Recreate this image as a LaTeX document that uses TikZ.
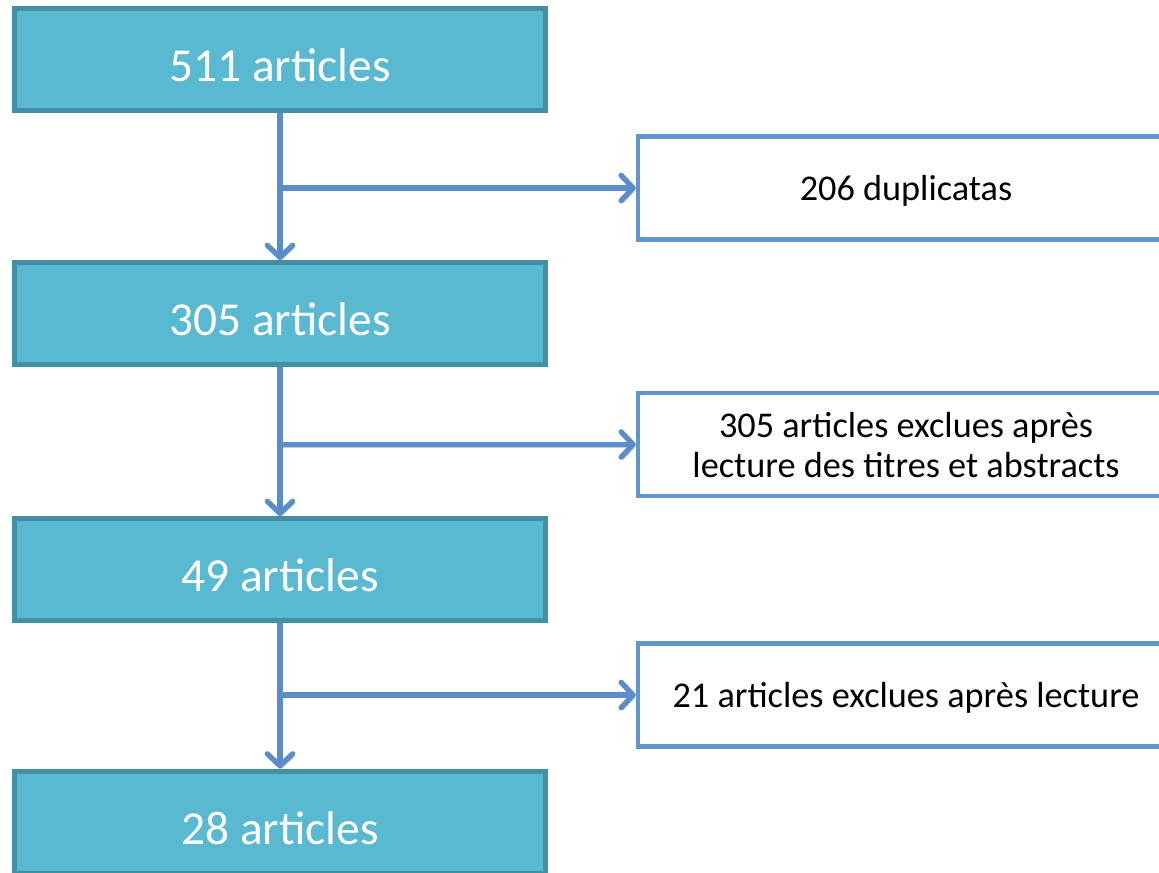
\documentclass[tikz,border=0pt]{standalone}
\usepackage{fontspec}
\setmainfont{Carlito}
\usetikzlibrary{positioning,
        arrows.meta}
\usepackage{xcolor}
\definecolor{boxfill}{RGB}{88,185,209}
\definecolor{boxline}{RGB}{67,143,163}
\definecolor{flowblue}{RGB}{91,142,200}
\definecolor{sideline}{RGB}{96,150,203}

\tikzset{
    stage/.style={rectangle,draw=boxline,fill=boxfill,line width=3.75pt,
        minimum width=398pt,minimum height=76.5pt,text=white,
        font=\fontsize{35.5}{42}\selectfont,text height=33pt,text depth=0pt},
    excluded/.style={rectangle,draw=sideline,fill=white,line width=3.3pt,
        minimum width=402pt,minimum height=77pt,align=center,
        font=\fontsize{27.2}{30}\selectfont,text depth=0pt},
    flow/.style={draw=flowblue,line width=4pt,
        -{Straight Barb[length=9pt,width=19pt,round]},
        preaction={draw=black,opacity=0.2,
            transform canvas={shift={(1.5pt,-2pt)}}}}
}

\begin{document}
\begin{tikzpicture}[x=0.75pt,y=-0.75pt]
    \useasboundingbox (0,0) rectangle (1159,872);
    \clip (0,0) rectangle (1159,872);

    \node [stage] (n511) at (280,59.5) {511 articles};
    \node [stage] (n305) at (280,313.5) {305 articles};
    \node [stage] (n49) at (280,569.5) {49 articles};
    \node [stage] (n28) at (280,822) {28 articles};

    \node [excluded] (dup) at (906,188) {206 duplicatas};
    \node [excluded] (titres) at (906,444.5) {305 articles exclues après\\lecture des titres et abstracts};
    \node [excluded] (lecture) at (906,695) {21 articles exclues après lecture};

    \draw [flow] (n511.south) -- (n305.north);
    \draw [flow] (n305.south) -- (n49.north);
    \draw [flow] (n49.south) -- (n28.north);

    \draw [flow] (n511.south |- dup.west) -- (dup.west);
    \draw [flow] (n305.south |- titres.west) -- (titres.west);
    \draw [flow] (n49.south |- lecture.west) -- (lecture.west);
\end{tikzpicture}
\end{document}
